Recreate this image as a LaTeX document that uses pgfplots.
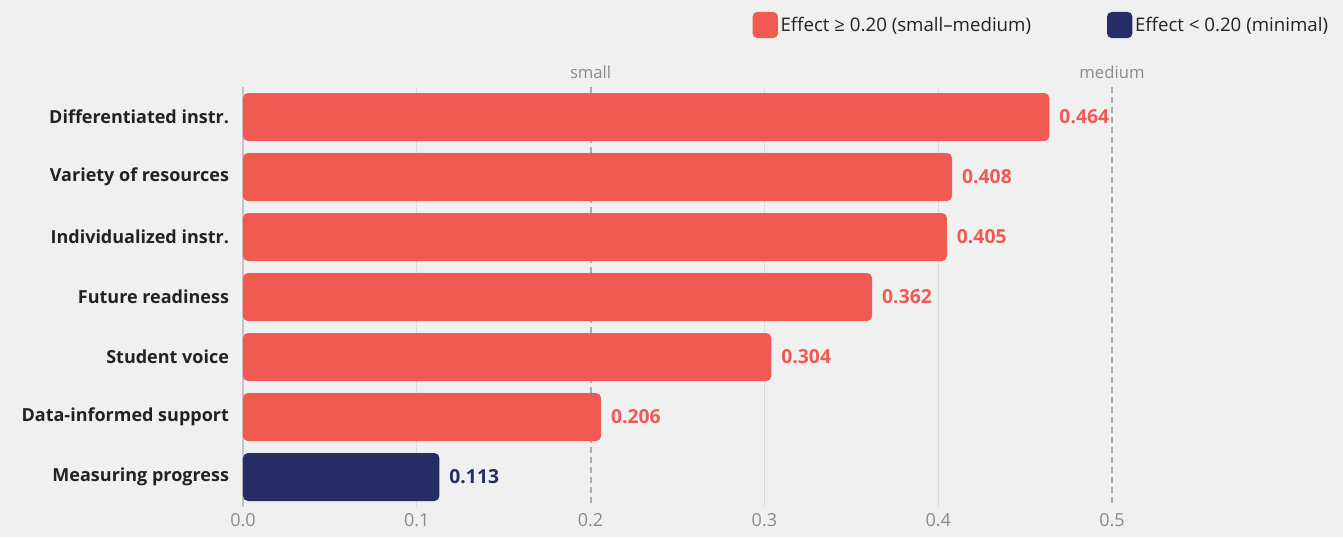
\documentclass[border=0pt]{standalone}
\usepackage{pgfplots}
\pgfplotsset{compat=1.18}
\usepackage{fontspec}
\setmainfont{Open Sans}
\definecolor{bg}{HTML}{F0F0F0}
\definecolor{redb}{HTML}{F05A52}
\definecolor{navy}{HTML}{252D64}
\definecolor{txt}{HTML}{222222}
\definecolor{tickc}{HTML}{8A8A8A}
\definecolor{gridl}{HTML}{DCDCDC}
\definecolor{dashc}{HTML}{ABABAB}
\definecolor{zeroc}{HTML}{C4C4C4}
\begin{document}
\begin{tikzpicture}
\fill[bg] (0pt,0pt) rectangle (1007.25pt,402.75pt);
\begin{axis}[
  at={(182.25pt,22.5pt)}, anchor=south west,
  scale only axis, width=651.75pt, height=315pt,
  xmin=0, xmax=0.5, ymin=-0.5, ymax=6.5, y dir=reverse,
  axis x line=bottom, axis y line=left, axis line style={draw=none},
  clip=false,
  xtick={0,0.1,0.2,0.3,0.4,0.5},
  xticklabels={0.0,0.1,0.2,0.3,0.4,0.5},
  ytick={0,1,2,3,4,5,6},
  yticklabels={Differentiated instr.,Variety of resources,Individualized instr.,Future readiness,Student voice,Data-informed support,Measuring progress},
  major tick length=0pt,
  tick label style={font=\fontsize{13.5}{16}\selectfont},
  xticklabel style={text=tickc, yshift=-4pt, inner sep=1pt},
  yticklabel style={text=txt, font=\fontsize{13.5}{16}\selectfont\bfseries, xshift=-7pt},
  /pgf/number format/assume math mode=true,
  legend style={at={(rel axis cs:1.2566,1.1476)}, anchor=east, draw=none, fill=none,
    legend columns=2, font=\fontsize{14}{16}\selectfont, text=txt,
    /tikz/every even column/.append style={column sep=55pt}},
  legend image code/.code={\fill[#1, rounded corners=3.5pt] (0pt,-9.8pt) rectangle (19pt,9.8pt);},
]
% light grid
\draw[gridl, line width=0.8pt] (axis cs:0.1,-0.5) -- (axis cs:0.1,6.5);
\draw[gridl, line width=0.8pt] (axis cs:0.3,-0.5) -- (axis cs:0.3,6.5);
\draw[gridl, line width=0.8pt] (axis cs:0.4,-0.5) -- (axis cs:0.4,6.5);
\draw[dashc, line width=1.5pt, dash pattern=on 4.5pt off 3pt] (axis cs:0.2,-0.5) -- (axis cs:0.2,6.5);
\draw[dashc, line width=1.5pt, dash pattern=on 4.5pt off 3pt] (axis cs:0.5,-0.5) -- (axis cs:0.5,6.5);
\draw[zeroc, line width=2pt] (axis cs:0,-0.5) -- (axis cs:0,6.5);
\node[anchor=south, text=tickc, font=\fontsize{12.5}{14}\selectfont, inner sep=2pt, yshift=4pt] at (axis cs:0.2,-0.5) {small};
\node[anchor=south, text=tickc, font=\fontsize{12.5}{14}\selectfont, inner sep=2pt, yshift=4pt] at (axis cs:0.5,-0.5) {medium};
\addplot[xbar, bar width=0.8, bar shift=0pt, fill=redb, draw=none, rounded corners=3.75pt,
  nodes near coords, point meta=explicit symbolic,
  every node near coord/.append style={anchor=west, xshift=4pt, text=redb, font=\fontsize{14.5}{17}\selectfont\bfseries, rounded corners=0pt}]
  coordinates {(0.464,0)[0.464] (0.408,1)[0.408] (0.405,2)[0.405] (0.362,3)[0.362] (0.304,4)[0.304] (0.206,5)[0.206]};
\addlegendentry{Effect ≥ 0.20 (small–medium)}
\addplot[xbar, bar width=0.8, bar shift=0pt, fill=navy, draw=none, rounded corners=3.75pt,
  nodes near coords, point meta=explicit symbolic,
  every node near coord/.append style={anchor=west, xshift=4pt, text=navy, font=\fontsize{14.5}{17}\selectfont\bfseries, rounded corners=0pt}]
  coordinates {(0.113,6)[0.113]};
\addlegendentry{Effect < 0.20 (minimal)}
\end{axis}
\pgfresetboundingbox
\path (0pt,0pt) rectangle (1007.25pt,402.75pt);
\end{tikzpicture}
\end{document}
